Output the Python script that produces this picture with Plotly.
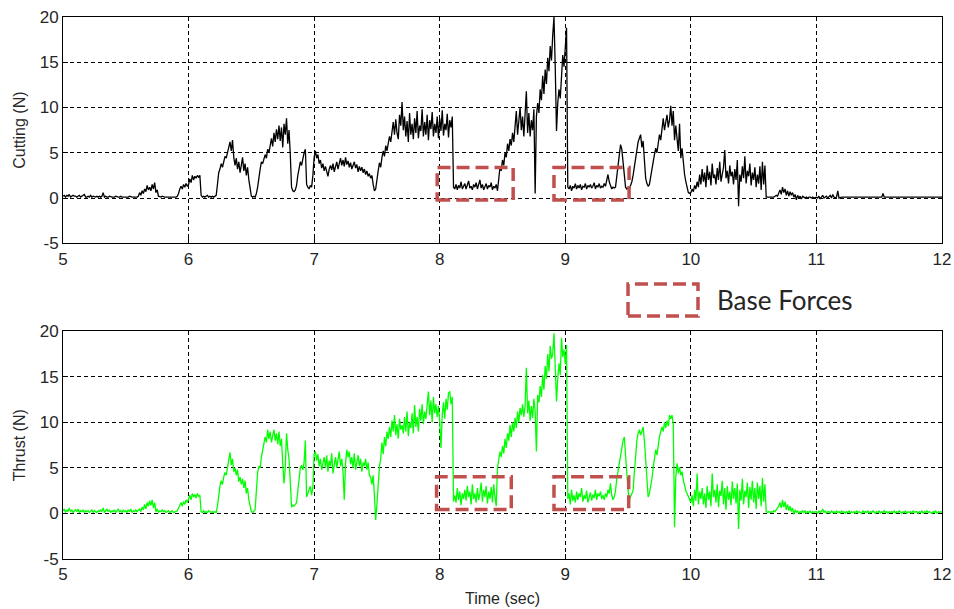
import numpy as np
import plotly.graph_objects as go
from plotly.subplots import make_subplots

# Sample times (s), 100 Hz from 5 s to 12 s
time_sec = np.round(np.arange(500, 1201) / 100.0, 2)

# Cutting force (N), one row per 0.1 s
cutting_n = [
    0.2, 0.3, 0.1, 0.3, 0.2, 0.4, 0.1, 0.2, 0.3, 0.2,
    0.2, 0.1, 0.2, 0.3, 0.1, 0.2, 0.2, 0.4, 0.1, 0.1,
    0.2, 0.1, 0.3, 0.1, 0.2, 0.1, 0.1, 0.2, 0.1, 0.2,
    0.1, 0.2, 0.6, 0.1, 0.2, 0.1, 0.1, 0.2, 0.1, 0.1,
    0.1, 0.1, 0.2, 0.1, 0.1, 0.1, 0.2, 0.1, 0.1, 0.1,
    0.1, 0.1, 0.1, 0.2, 0.1, 0.1, 0.1, 0.1, 0.1, 0.1,
    0.2, 0.6, 0.3, 0.8, 0.5, 1.0, 0.7, 1.4, 0.9, 1.2,
    0.8, 1.5, 1.0, 1.7, 0.6, 0.9, 0.2, 0.1, 0.1, 0.2,
    0.1, 0.1, 0.1, 0.1, 0.1, 0.1, 0.1, 0.1, 0.1, 0.1,
    0.1, 0.2, 0.5, 1.0, 1.3, 1.0, 1.5, 1.2, 1.6, 1.3,
    1.5, 2.1, 1.7, 2.5, 2.0, 2.4, 2.2, 2.5, 2.3, 2.5,
    0.3, 0.1, 0.2, 0.1, 0.2, 0.3, 0.1, 0.2, 0.1, 0.2,
    0.1, 0.2, 0.3, 1.5, 2.8, 3.2, 3.8, 3.4, 4.2, 4.6,
    4.4, 5.0, 5.6, 6.2, 5.2, 6.4, 4.5, 3.6, 4.4, 3.2,
    4.0, 2.8, 3.6, 4.5, 3.0, 3.8, 2.5, 3.4, 2.0, 1.2,
    0.2, 0.1, 0.2, 0.1, 0.5, 1.2, 2.5, 3.2, 4.0, 3.8,
    4.3, 4.8, 4.4, 5.4, 5.0, 5.8, 6.6, 5.7, 7.2, 6.2,
    7.6, 6.5, 8.0, 6.3, 7.8, 5.6, 8.2, 7.0, 8.8, 6.0,
    7.5, 4.8, 1.2, 0.8, 0.7, 0.9, 1.4, 2.5, 3.2, 4.0,
    3.6, 4.4, 5.0, 5.4, 1.5, 1.2, 1.0, 1.4, 1.2, 2.5,
    4.5, 5.2, 4.4, 4.8, 3.8, 4.2, 3.3, 3.8, 3.0, 3.5,
    2.8, 2.4, 3.2, 3.6, 3.1, 3.8, 2.9, 3.4, 4.0, 3.2,
    3.9, 4.4, 3.6, 4.2, 3.5, 4.5, 3.7, 4.1, 3.4, 3.9,
    3.2, 3.6, 4.0, 3.3, 3.7, 2.9, 3.5, 3.0, 3.4, 2.8,
    3.2, 2.6, 3.0, 2.4, 2.7, 2.2, 2.5, 1.5, 0.8, 1.0,
    1.8, 3.0, 3.9, 3.4, 4.5, 5.2, 4.6, 5.8, 5.2, 6.0,
    6.8, 6.2, 7.5, 8.4, 7.0, 8.7, 7.2, 6.5, 9.2, 8.0,
    10.6, 7.5, 9.0, 6.8, 8.5, 6.2, 9.4, 7.0, 8.2, 6.5,
    8.8, 7.2, 9.6, 6.6, 8.0, 7.4, 9.8, 6.8, 8.4, 7.0,
    9.2, 6.4, 8.6, 7.6, 9.5, 6.8, 8.2, 7.2, 9.0, 6.6,
    8.8, 7.4, 9.7, 6.9, 8.2, 7.5, 9.3, 6.7, 8.6, 7.8,
    9.0, 1.2, 1.0, 1.5, 0.9, 1.4, 1.1, 1.8, 1.0, 1.3,
    1.6, 1.0, 1.4, 1.9, 1.1, 1.3, 0.9, 1.5, 1.2, 1.7,
    1.0, 1.4, 2.0, 1.1, 1.5, 0.9, 1.3, 1.6, 1.0, 1.4,
    1.2, 1.7, 0.9, 1.3, 1.1, 1.5, 0.8, 2.5, 3.4, 3.0,
    4.2, 3.6, 5.0, 4.5, 6.0, 5.2, 6.5, 5.8, 7.2, 6.2,
    7.8, 9.6, 7.0, 8.4, 10.0, 7.5, 9.0, 6.8, 8.8, 11.8,
    7.2, 9.4, 6.8, 8.6, 7.5, 9.8, 0.5, 9.0, 10.5, 9.4,
    12.0, 10.8, 13.5, 11.5, 14.2, 12.6, 15.5, 14.0, 16.8, 15.2,
    18.0, 20.0, 14.5, 7.4, 10.5, 12.0, 11.0, 13.5, 15.8, 14.5,
    17.0, 18.8, 1.2, 1.0, 1.4, 0.8, 1.3, 1.1, 1.6, 1.0,
    1.4, 1.1, 1.5, 0.9, 1.3, 1.2, 1.6, 1.0, 1.4, 1.2,
    1.5, 1.1, 1.3, 1.7, 1.0, 1.4, 1.2, 1.6, 1.1, 1.3,
    1.2, 1.6, 1.3, 2.2, 2.6, 1.8, 1.4, 1.0, 1.2, 1.1,
    1.2, 2.5, 3.6, 4.8, 5.9, 5.4, 4.2, 3.0, 1.2, 1.0,
    1.1, 1.0, 1.3, 1.8, 2.5, 3.4, 4.6, 5.5, 6.2, 6.6,
    7.0, 5.6, 6.3, 4.2, 2.2, 1.6, 1.3, 1.5, 2.2, 3.0,
    4.0, 4.8, 5.5, 5.0, 6.2, 7.0, 6.4, 7.6, 8.8, 7.5,
    8.4, 9.2, 7.8, 8.6, 10.2, 8.0, 9.6, 6.4, 8.0, 6.6,
    5.2, 8.2, 4.4, 5.5, 3.7, 2.6, 1.8, 1.0, 0.6, 0.5,
    0.6, 1.0, 0.7, 1.4, 1.0, 1.8, 1.2, 2.6, 1.5, 3.2,
    1.8, 2.8, 1.2, 3.6, 2.0, 2.9, 1.4, 3.8, 2.2, 2.6,
    1.5, 3.3, 2.0, 4.0, 1.8, 2.6, 3.4, 5.3, 2.2, 3.0,
    1.6, 3.6, 2.4, 2.9, 1.5, 3.2, 2.0, 4.2, -0.9, 2.6,
    1.8, 3.5, 2.2, 4.6, 1.6, 3.0, 2.4, 3.8, 1.4, 2.8,
    2.0, 3.4, 1.2, 2.6, 1.6, 3.5, 0.9, 4.0, 1.5, 3.6,
    0.1, 0.1, 0.1, 0.1, 0.1, 0.1, 0.1, 0.2, 0.3, 0.2,
    0.5, 0.9, 0.4, 1.2, 0.6, 1.0, 0.3, 0.8, 0.2, 0.7,
    0.3, 0.6, 0.1, 0.4, -0.2, 0.3, 0.0, 0.2, -0.1, 0.2,
    0.1, 0.0, 0.1, 0.0, 0.1, 0.1, 0.0, 0.1, 0.0, 0.1,
    0.1, 0.0, 0.2, -0.1, 0.1, 0.3, 0.0, 0.1, 0.2, 0.0,
    0.1, 0.3, 0.0, 0.4, 0.1, 0.0, 0.1, 0.8, 0.0, 0.1,
    0.1, 0.1, 0.1, 0.1, 0.1, 0.1, 0.1, 0.1, 0.1, 0.1,
    0.1, 0.1, 0.1, 0.1, 0.1, 0.1, 0.1, 0.1, 0.1, 0.1,
    0.1, 0.1, 0.1, 0.1, 0.1, 0.1, 0.1, 0.1, 0.1, 0.1,
    0.1, 0.1, 0.1, 0.5, 0.1, 0.1, 0.1, 0.1, 0.1, 0.1,
    0.1, 0.1, 0.1, 0.1, 0.1, 0.1, 0.1, 0.1, 0.1, 0.1,
    0.1, 0.1, 0.1, 0.1, 0.1, 0.1, 0.1, 0.1, 0.1, 0.1,
    0.1, 0.1, 0.1, 0.1, 0.1, 0.1, 0.1, 0.1, 0.1, 0.1,
    0.1, 0.1, 0.1, 0.1, 0.1, 0.1, 0.1, 0.1, 0.1, 0.1,
    0.1,
]

# Thrust force (N), one row per 0.1 s
thrust_n = [
    0.3, 0.5, 0.1, 0.4, 0.2, 0.6, 0.2, 0.4, 0.1, 0.3,
    0.4, 0.2, 0.5, 0.1, 0.3, 0.2, 0.4, 0.1, 0.3, 0.2,
    0.3, 0.1, 0.2, 0.4, 0.1, 0.3, 0.2, 0.1, 0.3, 0.2,
    0.4, 0.2, 0.6, 0.1, 0.3, 0.5, 0.2, 0.4, 0.1, 0.3,
    0.2, 0.4, 0.1, 0.3, 0.5, 0.2, 0.3, 0.1, 0.4, 0.2,
    0.3, 0.1, 0.4, 0.2, 0.5, 0.1, 0.3, 0.2, 0.4, 0.2,
    0.3, 0.5, 0.2, 0.7, 0.4, 1.0, 0.5, 1.2, 0.8, 1.4,
    0.9, 1.5, 0.6, 1.2, 0.2, 0.5, 0.1, 0.3, 0.2, 0.4,
    0.2, 0.3, 0.1, 0.2, 0.3, 0.1, 0.2, 0.3, 0.1, 0.2,
    0.2, 0.3, 0.6, 0.9, 1.2, 0.8, 1.3, 1.0, 1.5, 1.2,
    1.6, 2.0, 1.5, 2.2, 1.8, 2.1, 1.7, 2.2, 1.9, 2.0,
    0.2, 0.1, 0.3, 0.1, 0.2, 0.1, 0.3, 0.2, 0.1, 0.2,
    0.1, 0.2, 0.1, 0.8, 2.2, 3.0, 3.6, 3.2, 4.0, 4.5,
    4.2, 5.0, 5.5, 6.7, 5.3, 6.0, 4.6, 5.0, 4.2, 4.8,
    3.5, 4.0, 3.2, 3.8, 2.8, 3.6, 2.2, 2.8, 1.5, 0.6,
    0.2, 0.1, 0.2, 0.4, 2.5, 4.5, 5.2, 5.0, 6.2, 7.0,
    7.6, 8.4, 7.8, 9.2, 8.2, 9.0, 7.8, 8.6, 9.2, 8.0,
    8.8, 7.6, 9.0, 7.4, 8.2, 5.5, 3.3, 5.0, 8.8, 7.0,
    6.0, 3.5, 0.7, 0.9, 0.8, 1.0, 1.2, 2.5, 4.0, 5.0,
    5.3, 4.8, 5.6, 8.0, 1.8, 2.2, 2.6, 3.0, 2.0, 2.9,
    6.5, 6.8, 5.8, 6.5, 5.2, 6.0, 4.8, 5.6, 6.2, 5.0,
    6.4, 4.6, 5.8, 5.2, 6.6, 4.4, 5.6, 6.2, 5.0, 5.8,
    6.8, 5.2, 6.0, 4.6, 1.5, 5.5, 7.0, 6.2, 6.8, 5.4,
    6.2, 5.0, 6.6, 4.8, 5.8, 6.4, 5.2, 6.0, 4.6, 5.6,
    5.2, 6.0, 4.8, 5.6, 4.2, 4.0, 3.2, 4.2, 2.0, -0.7,
    1.0, 3.5, 5.2, 6.0, 7.8, 6.5, 8.4, 7.4, 9.0, 8.2,
    9.5, 8.4, 10.2, 9.0, 10.8, 8.6, 9.8, 8.2, 10.4, 9.2,
    9.7, 8.8, 10.6, 9.0, 11.2, 8.5, 10.0, 9.4, 11.0, 8.8,
    11.9, 9.5, 10.6, 9.0, 11.5, 10.2, 12.0, 9.8, 11.2, 10.4,
    12.2, 13.4, 10.8, 12.4, 10.0, 12.8, 11.0, 12.0, 10.6, 11.8,
    10.1, 7.2, 10.8, 12.2, 10.4, 12.6, 11.4, 13.2, 13.4, 12.0,
    12.8, 1.3, 2.0, 1.2, 2.8, 1.5, 2.4, 0.9, 2.2, 1.6,
    2.6, 1.4, 3.0, 1.8, 2.4, 1.0, 3.2, 1.6, 2.2, 1.2,
    2.8, 1.5, 2.2, 3.4, 1.3, 2.6, 1.8, 3.0, 1.1, 2.4,
    1.6, 2.9, 1.2, 3.2, 1.8, 0.8, 5.0, 5.8, 6.8, 6.2,
    7.4, 6.6, 8.2, 7.2, 8.8, 8.0, 9.7, 8.4, 10.0, 9.0,
    10.5, 9.4, 11.2, 10.0, 11.6, 10.8, 12.0, 10.6, 11.8, 16.0,
    11.0, 12.4, 10.2, 11.8, 10.5, 12.6, 11.2, 6.8, 13.0, 12.2,
    14.0, 12.8, 15.2, 13.6, 16.2, 14.8, 17.5, 15.6, 18.4, 17.0,
    17.5, 19.8, 15.0, 12.3, 14.8, 16.5, 15.2, 19.3, 17.2, 18.0,
    16.4, 18.5, 1.6, 2.2, 1.0, 2.6, 1.4, 2.0, 1.2, 2.4,
    1.5, 2.2, 1.8, 2.8, 1.3, 2.0, 1.6, 2.5, 1.2, 1.9,
    2.3, 1.4, 2.1, 1.7, 2.6, 1.5, 2.2, 1.9, 2.4, 1.6,
    2.0, 1.5, 2.2, 1.8, 2.6, 2.2, 3.3, 2.0, 1.5, 1.8,
    2.5, 3.8, 4.6, 5.8, 6.5, 7.4, 8.0, 8.4, 6.2, 4.0,
    2.5, 1.5, 1.8, 2.2, 2.5, 4.5, 6.5, 8.0, 8.8, 9.2,
    8.6, 9.2, 9.5, 8.0, 5.5, 2.8, 1.8, 2.2, 2.9, 3.8,
    5.0, 5.8, 7.0, 6.4, 7.7, 8.4, 9.0, 9.5, 9.0, 10.0,
    9.4, 10.2, 9.6, 10.8, 10.4, 10.8, 9.8, -1.5, 4.0, 5.5,
    4.4, 5.1, 4.2, 4.6, 3.7, 3.0, 2.5, 2.2, 1.8, 1.5,
    1.2, 2.0, 0.8, 2.6, 1.4, 4.4, 1.0, 2.4, 1.6, 2.8,
    1.0, 2.2, 0.6, 3.0, 1.5, 2.4, 0.8, 4.4, 1.8, 2.6,
    1.2, 3.2, 0.7, 2.5, 1.9, 3.6, 1.0, 2.8, 0.4, 3.0,
    1.5, 2.4, 0.9, 3.5, 1.6, 2.8, 1.1, 3.3, -1.7, 2.6,
    1.4, 3.8, 1.0, 2.5, 1.8, 3.4, 0.6, 2.9, 1.5, 3.6,
    1.2, 2.8, 0.5, 3.4, 1.6, 3.0, 0.8, 3.9, 1.3, 3.2,
    0.2, 0.1, 0.2, 0.1, 0.2, 0.1, 0.3, 0.2, 0.4, 0.6,
    0.8, 1.2, 0.6, 1.5, 0.7, 1.3, 0.4, 1.0, 0.3, 0.8,
    0.2, 0.6, -0.1, 0.4, 0.1, 0.3, 0.0, 0.2, 0.1, 0.3,
    0.1, 0.3, 0.0, 0.2, 0.1, 0.3, 0.0, 0.2, 0.1, 0.2,
    0.2, 0.0, 0.3, 0.1, 0.2, 0.5, 0.1, 0.3, 0.0, 0.2,
    0.2, 0.0, 0.3, 0.1, 0.2, 0.0, 0.3, 0.1, 0.2, 0.0,
    0.3, 0.1, 0.2, 0.0, 0.2, 0.1, 0.3, 0.0, 0.2, 0.1,
    0.2, 0.0, 0.3, 0.1, 0.2, 0.1, 0.0, 0.3, 0.1, 0.2,
    0.1, 0.3, 0.0, 0.2, 0.1, 0.3, 0.1, 0.0, 0.2, 0.1,
    0.3, 0.0, 0.2, 0.1, 0.3, 0.1, 0.2, 0.0, 0.2, 0.1,
    0.2, 0.1, 0.3, 0.0, 0.2, 0.1, 0.3, 0.1, 0.0, 0.2,
    0.1, 0.3, 0.0, 0.2, 0.1, 0.2, 0.0, 0.3, 0.1, 0.2,
    0.2, 0.0, 0.2, 0.1, 0.3, 0.0, 0.2, 0.1, 0.3, 0.1,
    0.2, 0.1, 0.0, 0.2, 0.1, 0.3, 0.0, 0.2, 0.1, 0.2,
    0.1,
]

x_ticks = [5, 6, 7, 8, 9, 10, 11, 12]
y_ticks = [-5, 0, 5, 10, 15, 20]

# Base-force windows (time span, force span) on each panel
base_windows_cutting = [(7.98, 8.585, -0.22, 3.36), (8.91, 9.508, -0.22, 3.36)]
base_windows_thrust = [(7.975, 8.57, 0.44, 4.03), (8.91, 9.505, 0.44, 4.03)]

BOX_RED = "#C0504D"
TEXT = "#262626"
FONT = "Liberation Sans, Arial, sans-serif"

fig = make_subplots(rows=2, cols=1, vertical_spacing=0.1)

fig.add_trace(go.Scatter(x=time_sec, y=cutting_n, mode="lines",
                         line=dict(color="black", width=1.3), showlegend=False),
              row=1, col=1)
fig.add_trace(go.Scatter(x=time_sec, y=thrust_n, mode="lines",
                         line=dict(color="#00FF00", width=1.3), showlegend=False),
              row=2, col=1)

axis_common = dict(
    showline=True, linecolor="black", linewidth=1, mirror=True,
    showgrid=True, gridcolor="black", gridwidth=1, griddash="4px,3px",
    zeroline=False, ticks="inside", ticklen=5, tickcolor="black",
    tickfont=dict(family=FONT, size=17, color=TEXT), automargin=False,
)

for r in (1, 2):
    fig.update_xaxes(range=[5, 12], tickvals=x_ticks,
                     ticktext=[str(v) for v in x_ticks], **axis_common, row=r, col=1)
    fig.update_yaxes(range=[-5, 20], tickvals=y_ticks,
                     ticktext=[str(v) for v in y_ticks], **axis_common, row=r, col=1)

fig.update_layout(
    xaxis=dict(domain=[0, 1]),
    yaxis=dict(domain=[0.5825, 1.0],
               title=dict(text="Cutting (N)", font=dict(family=FONT, size=16, color=TEXT), standoff=10)),
    xaxis2=dict(domain=[0, 1],
                title=dict(text="Time (sec)", font=dict(family=FONT, size=16, color=TEXT), standoff=9)),
    yaxis2=dict(domain=[0.0, 0.42],
                title=dict(text="Thrust (N)", font=dict(family=FONT, size=16, color=TEXT), standoff=10)),
    width=954, height=609,
    margin=dict(l=63, r=12, t=17, b=50),
    paper_bgcolor="white", plot_bgcolor="white",
)

box_line = dict(color=BOX_RED, width=3.5, dash="13px,6px")
for (x0, x1, y0, y1) in base_windows_cutting:
    fig.add_shape(type="rect", xref="x", yref="y", x0=x0, x1=x1, y0=y0, y1=y1,
                  line=box_line, layer="above")
for (x0, x1, y0, y1) in base_windows_thrust:
    fig.add_shape(type="rect", xref="x2", yref="y2", x0=x0, x1=x1, y0=y0, y1=y1,
                  line=box_line, layer="above")

# Key for the dashed windows
fig.add_shape(type="rect", xref="paper", yref="paper",
              x0=0.6428, x1=0.7224, y0=0.4483, y1=0.5074, line=box_line)
fig.add_annotation(xref="paper", yref="paper", x=0.7418, y=0.4779,
                   xanchor="left", yanchor="middle", showarrow=False,
                   text="Base Forces", font=dict(family="Lato, sans-serif", size=26, color=TEXT))

fig.write_html("out.html")
